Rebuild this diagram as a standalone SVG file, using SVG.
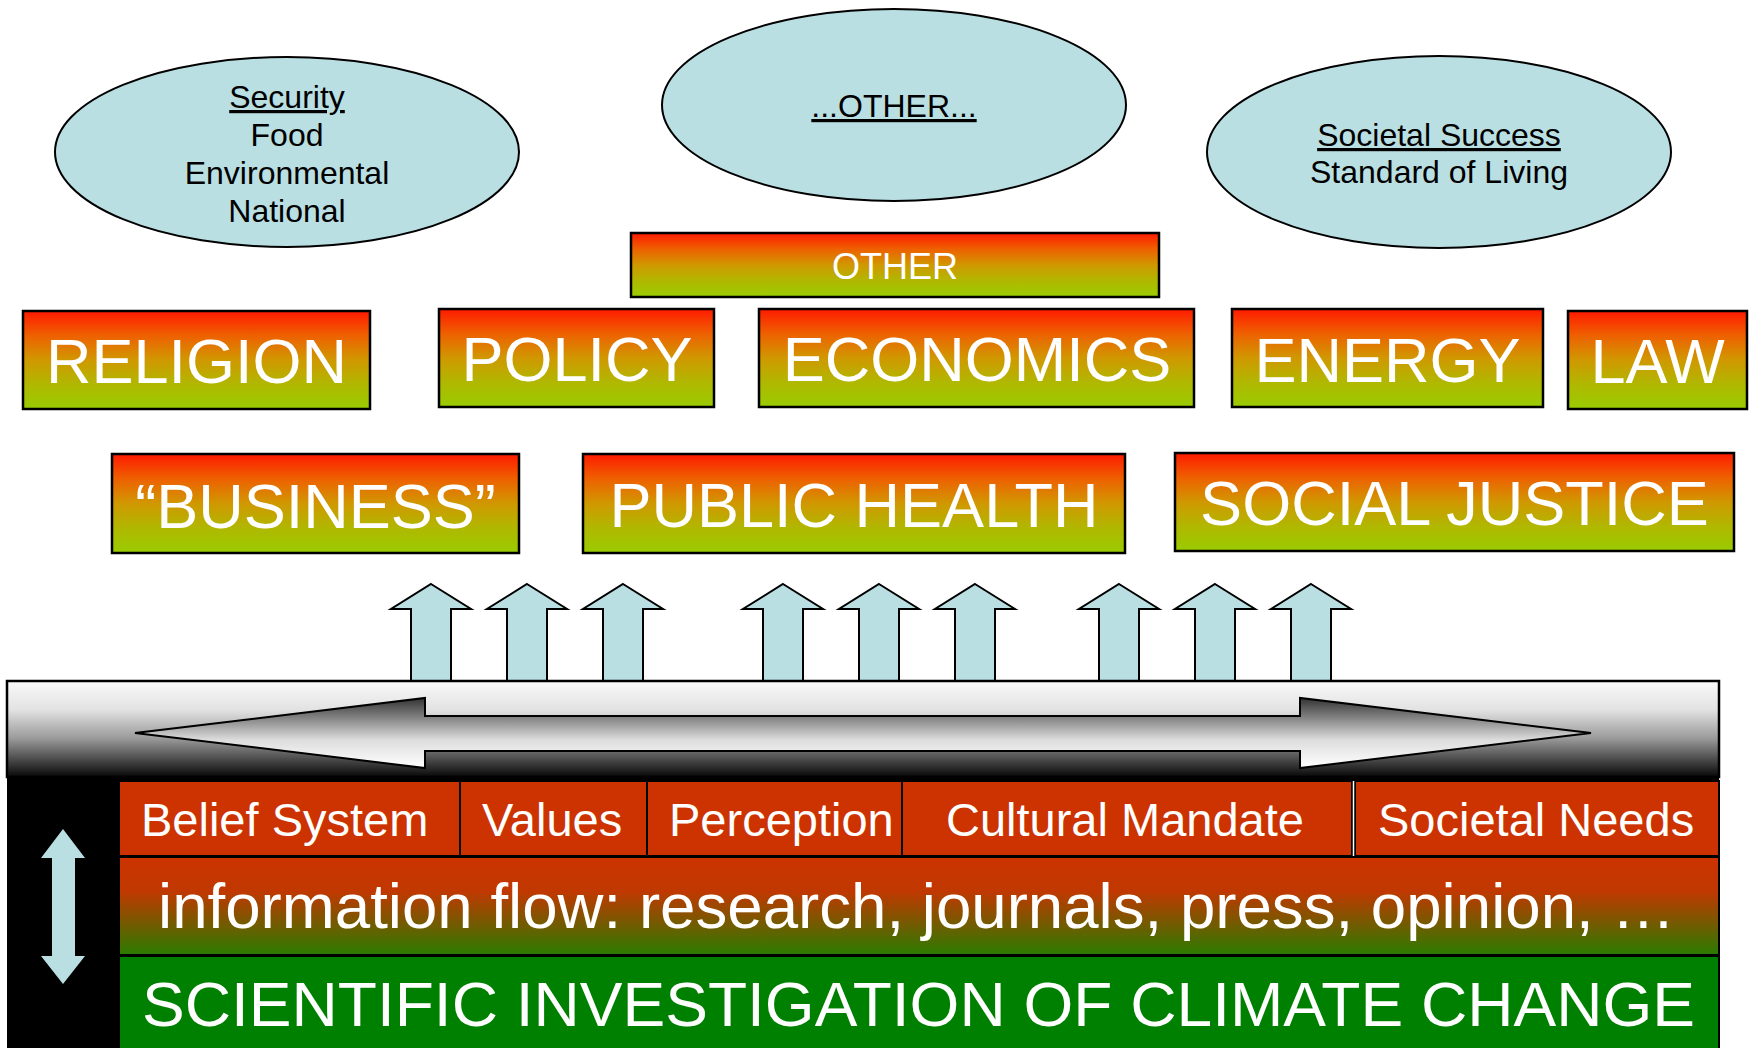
<svg xmlns="http://www.w3.org/2000/svg" width="1758" height="1048" viewBox="0 0 1758 1048">
  <defs>
    <linearGradient id="boxGrad" x1="0" y1="0" x2="0" y2="1">
      <stop offset="0" stop-color="#FF1A00"/>
      <stop offset="0.25" stop-color="#EE6000"/>
      <stop offset="0.5" stop-color="#D09800"/>
      <stop offset="0.75" stop-color="#B0B800"/>
      <stop offset="1" stop-color="#99CC00"/>
    </linearGradient>
    <linearGradient id="barGrad" x1="0" y1="0" x2="0" y2="1">
      <stop offset="0" stop-color="#FAFAFA"/>
      <stop offset="0.3" stop-color="#E2E2E2"/>
      <stop offset="0.6" stop-color="#999999"/>
      <stop offset="1" stop-color="#080808"/>
    </linearGradient>
    <linearGradient id="harrowGrad" x1="0" y1="0" x2="0" y2="1">
      <stop offset="0" stop-color="#333333"/>
      <stop offset="0.3" stop-color="#888888"/>
      <stop offset="0.6" stop-color="#DDDDDD"/>
      <stop offset="1" stop-color="#FFFFFF"/>
    </linearGradient>
    <linearGradient id="infoGrad" x1="0" y1="0" x2="0" y2="1">
      <stop offset="0" stop-color="#CC3300"/>
      <stop offset="0.35" stop-color="#C03800"/>
      <stop offset="1" stop-color="#2A7C00"/>
    </linearGradient>
  </defs>
  <style>
    .ell { fill: #B9DFE3; stroke: #000; stroke-width: 2; }
    .etxt { font-family: "Liberation Sans", Arial, sans-serif; font-size: 32px; fill: #000; text-anchor: middle; }
    .u { text-decoration: underline; }
    .box { fill: url(#boxGrad); stroke: #000; stroke-width: 2.5; }
    .btxt { font-family: "Liberation Sans", Arial, sans-serif; font-size: 63px; fill: #fff; text-anchor: middle; }
    .stxt { font-family: "Liberation Sans", Arial, sans-serif; font-size: 36px; fill: #fff; text-anchor: middle; }
    .uparrow { fill: #B9DFE3; stroke: #000; stroke-width: 2; }
    .cell { stroke: #000; stroke-width: 2; }
    .ctxt { font-family: "Liberation Sans", Arial, sans-serif; font-size: 47px; fill: #fff; }
    .big { font-family: "Liberation Sans", Arial, sans-serif; font-size: 63px; fill: #fff; }
  </style>
  <rect width="1758" height="1048" fill="#fff"/>

  <g id="ellipse-security">
    <ellipse class="ell" cx="287" cy="152" rx="232" ry="95"/>
    <text class="etxt u" x="287" y="108">Security</text>
    <text class="etxt" x="287" y="146">Food</text>
    <text class="etxt" x="287" y="184">Environmental</text>
    <text class="etxt" x="287" y="222">National</text>
  </g>
  <g id="ellipse-other">
    <ellipse class="ell" cx="894" cy="105" rx="232" ry="96"/>
    <text class="etxt u" x="894" y="117">...OTHER...</text>
  </g>
  <g id="ellipse-societal">
    <ellipse class="ell" cx="1439" cy="152" rx="232" ry="96"/>
    <text class="etxt u" x="1439" y="146">Societal Success</text>
    <text class="etxt" x="1439" y="183">Standard of Living</text>
  </g>

  <g id="box-other">
    <rect class="box" x="631" y="233" width="528" height="64"/>
    <text class="stxt" x="895" y="279">OTHER</text>
  </g>
  <g id="box-religion">
    <rect class="box" x="23" y="311" width="347" height="98"/>
    <text class="btxt" x="196.5" y="383">RELIGION</text>
  </g>
  <g id="box-policy">
    <rect class="box" x="439" y="309" width="275" height="98"/>
    <text class="btxt" x="577" y="381">POLICY</text>
  </g>
  <g id="box-economics">
    <rect class="box" x="759" y="309" width="435" height="98"/>
    <text class="btxt" x="977" y="381">ECONOMICS</text>
  </g>
  <g id="box-energy">
    <rect class="box" x="1232" y="309" width="311" height="98"/>
    <text class="btxt" x="1387.5" y="382">ENERGY</text>
  </g>
  <g id="box-law">
    <rect class="box" x="1568" y="311" width="179" height="98"/>
    <text class="btxt" x="1657.5" y="383">LAW</text>
  </g>
  <g id="box-business">
    <rect class="box" x="112" y="454" width="407" height="99"/>
    <text class="btxt" x="315.5" y="528">“BUSINESS”</text>
  </g>
  <g id="box-public-health">
    <rect class="box" x="583" y="454" width="542" height="99"/>
    <text class="btxt" x="854" y="527">PUBLIC HEALTH</text>
  </g>
  <g id="box-social-justice">
    <rect class="box" x="1175" y="453" width="559" height="98"/>
    <text class="btxt" x="1454.5" y="525">SOCIAL JUSTICE</text>
  </g>

  <g id="connectors">
    <g id="up-arrows">
      <polygon class="uparrow" points="431,584 471,609 451,609 451,684 411,684 411,609 391,609"/>
      <polygon class="uparrow" points="527,584 567,609 547,609 547,684 507,684 507,609 487,609"/>
      <polygon class="uparrow" points="623,584 663,609 643,609 643,684 603,684 603,609 583,609"/>
      <polygon class="uparrow" points="783,584 823,609 803,609 803,684 763,684 763,609 743,609"/>
      <polygon class="uparrow" points="879,584 919,609 899,609 899,684 859,684 859,609 839,609"/>
      <polygon class="uparrow" points="975,584 1015,609 995,609 995,684 955,684 955,609 935,609"/>
      <polygon class="uparrow" points="1119,584 1159,609 1139,609 1139,684 1099,684 1099,609 1079,609"/>
      <polygon class="uparrow" points="1215,584 1255,609 1235,609 1235,684 1195,684 1195,609 1175,609"/>
      <polygon class="uparrow" points="1311,584 1351,609 1331,609 1331,684 1291,684 1291,609 1271,609"/>
    </g>
  </g>

  <g id="base-panel">
    <rect x="7" y="681" width="1712" height="380" fill="#000"/>
    <rect x="7" y="681" width="1712" height="96" fill="url(#barGrad)" stroke="#000" stroke-width="2.5"/>
  </g>

  <g id="flow-arrows">
    <polygon points="135,733 425,698 425,716 1300,716 1300,698 1591,733 1300,768 1300,751 425,751 425,768" fill="url(#harrowGrad)" stroke="#000" stroke-width="2"/>
    <polygon points="63,829 85,858 75,858 75,956 85,956 63,984 41,956 52,956 52,858 41,858" fill="#B9DFE3"/>
  </g>

  <g id="cell-belief-system">
    <rect class="cell" x="119" y="781" width="341" height="75" fill="#CC3300"/>
    <text class="ctxt" x="141" y="836">Belief System</text>
  </g>
  <g id="cell-values">
    <rect class="cell" x="460" y="781" width="187" height="75" fill="#CC3300"/>
    <text class="ctxt" x="482" y="836">Values</text>
  </g>
  <g id="cell-perception">
    <rect class="cell" x="647" y="781" width="255" height="75" fill="#CC3300"/>
    <text class="ctxt" x="669" y="836">Perception</text>
  </g>
  <g id="cell-cultural-mandate">
    <rect class="cell" x="902" y="781" width="450" height="75" fill="#CC3300"/>
    <text class="ctxt" x="946" y="836">Cultural Mandate</text>
  </g>
  <g id="cell-societal-needs">
    <rect class="cell" x="1355" y="781" width="364" height="75" fill="#CC3300"/>
    <line x1="1353.5" y1="781" x2="1353.5" y2="856" stroke="#fff" stroke-width="1.5"/>
    <text class="ctxt" x="1378" y="836">Societal Needs</text>
  </g>
  <g id="row-information-flow">
    <rect class="cell" x="119" y="857" width="1600" height="98" fill="url(#infoGrad)"/>
    <text class="big" x="158" y="928" textLength="1517" lengthAdjust="spacingAndGlyphs">information flow: research, journals, press, opinion, …</text>
  </g>
  <g id="row-scientific">
    <rect class="cell" x="119" y="956" width="1600" height="100" fill="#008000"/>
    <text class="big" x="142" y="1026" textLength="1553" lengthAdjust="spacingAndGlyphs">SCIENTIFIC INVESTIGATION OF CLIMATE CHANGE</text>
  </g>
</svg>
